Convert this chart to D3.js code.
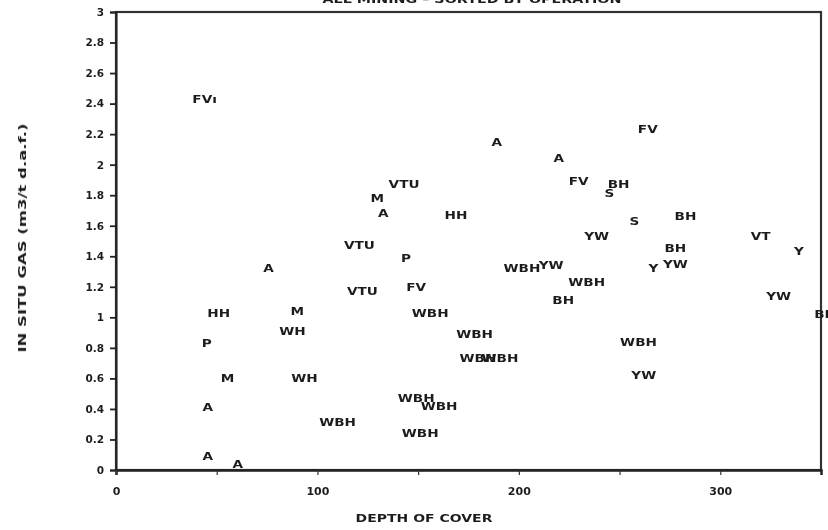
<!DOCTYPE html>
<html>
<head>
<meta charset="utf-8">
<script src="https://cdn.jsdelivr.net/npm/d3@7"></script>
<style>
  html, body { margin: 0; padding: 0; background: #fff; }
  svg { display: block; }
  text { font-family: "DejaVu Sans", sans-serif; font-weight: bold; fill: #1e1e1e; }
</style>
</head>
<body>
<svg id="chart" width="828" height="530"></svg>
<script>
// Sample codes plotted as text markers
const codes = [
  "FVı", "A", "HH", "P", "M", "A", "A", "A",
  "M", "WH", "WH", "WBH",
  "VTU", "M", "A", "VTU", "P", "VTU", "FV", "HH",
  "WBH", "WBH", "WBH", "WBH", "WBH", "WBH", "WBH",
  "A", "A", "FV", "BH", "S", "FV",
  "YW", "S", "BH", "BH", "Y", "YW",
  "WBH", "YW", "WBH", "BH", "WBH", "YW",
  "VT", "Y", "YW", "BH"
];
// Depth of cover for each sample
const depth = [
  44, 75.7, 51, 45, 55.4, 45.5, 45.5, 60.4,
  90, 87.6, 93.6, 110,
  143, 129.7, 132.7, 120.8, 144, 122.3, 149, 168.8,
  156, 178, 179.7, 190.6, 149, 160.4, 151,
  189, 219.8, 229.7, 249.5, 245, 264,
  238.6, 257.4, 282.7, 277.7, 266.8, 277.7,
  201.5, 216, 233.7, 222, 259.4, 262,
  320, 339, 329, 352
];
// In situ gas content (m3/t d.a.f.)
const gas = [
  2.43, 1.32, 1.03, 0.83, 0.60, 0.41, 0.09, 0.04,
  1.04, 0.91, 0.60, 0.31,
  1.87, 1.78, 1.68, 1.47, 1.39, 1.17, 1.20, 1.67,
  1.03, 0.89, 0.73, 0.73, 0.47, 0.42, 0.24,
  2.15, 2.04, 1.89, 1.87, 1.81, 2.23,
  1.53, 1.63, 1.66, 1.45, 1.32, 1.35,
  1.32, 1.34, 1.23, 1.11, 0.84, 0.62,
  1.53, 1.43, 1.14, 1.02
];

const xTickValues = [0, 50, 100, 150, 200, 250, 300];
const xTickLabels = ["0", "", "100", "", "200", "", "300"];
const yTickValues = [0, 0.2, 0.4, 0.6, 0.8, 1, 1.2, 1.4, 1.6, 1.8, 2, 2.2, 2.4, 2.6, 2.8, 3];
const yTickLabels = ["0", "0.2", "0.4", "0.6", "0.8", "1", "1.2", "1.4", "1.6", "1.8", "2", "2.2", "2.4", "2.6", "2.8", "3"];

const titleText = "ALL MINING – SORTED BY OPERATION";
const xTitle = "DEPTH OF COVER";
const yTitle = "IN SITU GAS (m3/t d.a.f.)";

const svg = d3.select("#chart");

// soft scanned look
const defs = svg.append("defs");
defs.append("filter").attr("id", "soft")
  .append("feGaussianBlur").attr("stdDeviation", 0.55);

const root = svg.append("g").attr("filter", "url(#soft)");

const plotL = 116, plotR = 821, plotT = 12, plotB = 470;
const x = d3.scaleLinear().domain([0, 350]).range([plotL, plotR]);
const y = d3.scaleLinear().domain([0, 3]).range([plotB, plotT]);

// title, running off the top edge
root.append("text")
  .attr("text-anchor", "middle")
  .attr("font-size", 11)
  .attr("transform", "translate(472,3) scale(1.3,1)")
  .text(titleText);

// frame
root.append("rect")
  .attr("x", plotL).attr("y", plotT)
  .attr("width", plotR - plotL).attr("height", plotB - plotT)
  .attr("fill", "none").attr("stroke", "#333").attr("stroke-width", 2.2);

// y axis
const yAxis = d3.axisLeft(y)
  .tickValues(yTickValues)
  .tickFormat((d, i) => yTickLabels[i])
  .tickSize(6).tickPadding(6);
const gy = root.append("g").attr("transform", `translate(${plotL},0)`).call(yAxis);
gy.select(".domain").attr("stroke", "#222").attr("stroke-width", 2);
gy.selectAll(".tick line").attr("stroke", "#222").attr("stroke-width", 1.8);
gy.selectAll(".tick text").attr("font-size", 10.5).attr("fill", "#1e1e1e")
  .style("font-family", "DejaVu Sans").style("font-weight", "bold");

// x axis
const xAxis = d3.axisBottom(x)
  .tickValues(xTickValues)
  .tickFormat((d, i) => xTickLabels[i])
  .tickSize(5).tickPadding(12);
const gx = root.append("g").attr("transform", `translate(0,${plotB})`).call(xAxis);
gx.select(".domain").attr("stroke", "#222").attr("stroke-width", 2.5);
gx.selectAll(".tick line").attr("stroke", "#333").attr("stroke-width", 1.2);
gx.selectAll(".tick text").attr("font-size", 11).attr("fill", "#1e1e1e")
  .style("font-family", "DejaVu Sans").style("font-weight", "bold");

// axis titles
root.append("text")
  .attr("text-anchor", "middle")
  .attr("font-size", 10)
  .attr("transform", "translate(424,522) scale(1.4,1)")
  .text(xTitle);

root.append("text")
  .attr("text-anchor", "middle")
  .attr("font-size", 10)
  .attr("transform", "translate(26,238) rotate(-90) scale(1.65,1)")
  .text(yTitle);

// text markers
const pts = codes.map((c, i) => ({ c, d: depth[i], g: gas[i] }));
root.append("g").selectAll("text.mk")
  .data(pts).join("text")
  .attr("class", "mk")
  .attr("text-anchor", "middle")
  .attr("dy", "0.36em")
  .attr("font-size", 10.5)
  .attr("transform", p => `translate(${x(p.d)},${y(p.g)}) scale(1.3,1)`)
  .text(p => p.c);
</script>
</body>
</html>
